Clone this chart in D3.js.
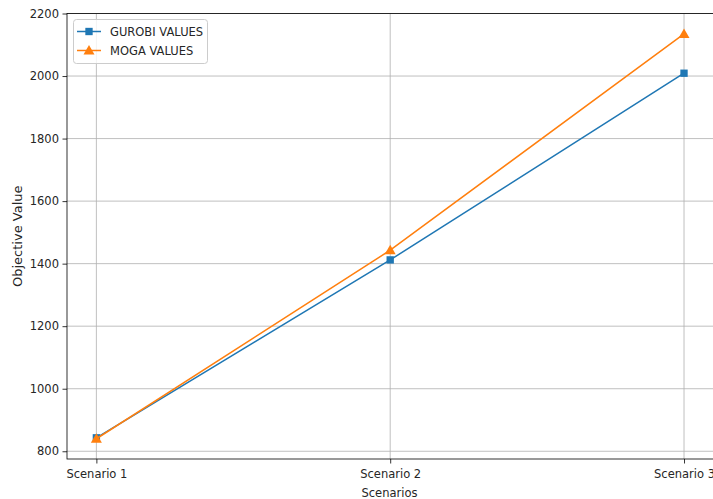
<!DOCTYPE html>
<html>
<head>
<meta charset="utf-8">
<script src="https://cdn.jsdelivr.net/npm/d3@7"></script>
<style>
  html, body { margin: 0; padding: 0; background: #fff; }
  svg { display: block; }
  text { font-family: "DejaVu Sans", sans-serif; fill: #262626; }
</style>
</head>
<body>
<svg id="chart" width="713" height="499"></svg>
<script>
const categories = ["Scenario 1", "Scenario 2", "Scenario 3"];
const gurobiValues = [843, 1412, 2009];
const mogaValues = [840, 1443, 2135];
const yTicks = [800, 1000, 1200, 1400, 1600, 1800, 2000, 2200];
const seriesNames = ["GUROBI VALUES", "MOGA VALUES"];

const W = 713, H = 499;
const m = { left: 67, top: 13.5, bottom: 459, right: 713.4 };
const svg = d3.select("#chart");

const x = d3.scaleLinear().domain([-0.1, 2.1]).range([m.left, m.right]);
const y = d3.scaleLinear().domain([775.25, 2200]).range([m.bottom, m.top]);

// grid
const grid = svg.append("g");
grid.selectAll("line.gy").data(yTicks).join("line")
  .attr("x1", m.left).attr("x2", m.right)
  .attr("y1", d => y(d)).attr("y2", d => y(d))
  .attr("stroke", "#b0b0b0").attr("stroke-width", 0.8);
grid.selectAll("line.gx").data(categories).join("line")
  .attr("x1", (d, i) => x(i)).attr("x2", (d, i) => x(i))
  .attr("y1", m.top).attr("y2", m.bottom)
  .attr("stroke", "#b0b0b0").attr("stroke-width", 0.8);

// axes
const yAxis = d3.axisLeft(y).tickValues(yTicks).tickSize(4.5).tickPadding(3.5).tickFormat(d3.format("d"));
const gy = svg.append("g").attr("transform", `translate(${m.left},0)`).call(yAxis);
const xAxis = d3.axisBottom(x).tickValues([0, 1, 2]).tickSize(4.5).tickPadding(6.5).tickFormat(i => categories[i]);
const gx = svg.append("g").attr("transform", `translate(0,${m.bottom})`).call(xAxis);
[gy, gx].forEach(g => {
  g.select(".domain").remove();
  g.selectAll(".tick line").attr("stroke", "#000").attr("stroke-width", 0.8);
  g.selectAll(".tick text").attr("font-size", 11.5).attr("fill", "#262626")
    .attr("font-family", "DejaVu Sans, sans-serif");
});

// spines
svg.append("rect").attr("x", m.left).attr("y", m.top)
  .attr("width", m.right - m.left).attr("height", m.bottom - m.top)
  .attr("fill", "none").attr("stroke", "#000").attr("stroke-width", 0.8);

// series
const line = d3.line().x((d, i) => x(i)).y(d => y(d));
const colors = ["#1f77b4", "#ff7f0e"];
const series = [gurobiValues, mogaValues];
const symSize = [54, 52];
series.forEach((vals, s) => {
  svg.append("path").datum(vals).attr("d", line)
    .attr("fill", "none").attr("stroke", colors[s]).attr("stroke-width", 1.5);
  const sym = s === 0 ? d3.symbolSquare : d3.symbolTriangle;
  svg.selectAll(null).data(vals).join("path")
    .attr("d", d3.symbol().type(sym).size(symSize[s]))
    .attr("transform", (d, i) => `translate(${x(i)},${y(d) + (s === 1 ? 0.9 : 0)})`)
    .attr("fill", colors[s]);
});

// labels
svg.append("text").attr("x", (m.left + m.right) / 2 - 0.7).attr("y", 497)
  .attr("text-anchor", "middle").attr("font-size", 11.5).text("Scenarios");
svg.append("text").attr("transform", `translate(21.5,${(m.top + m.bottom) / 2}) rotate(-90)`)
  .attr("text-anchor", "middle").attr("font-size", 13).text("Objective Value");

// legend
const lg = svg.append("g");
lg.append("rect").attr("x", 73.5).attr("y", 19.5).attr("width", 134).attr("height", 44)
  .attr("rx", 3).attr("fill", "#fff").attr("fill-opacity", 0.8)
  .attr("stroke", "#cccccc").attr("stroke-width", 1);
seriesNames.forEach((name, s) => {
  const ly = 31.5 + s * 19;
  lg.append("line").attr("x1", 77).attr("x2", 101).attr("y1", ly).attr("y2", ly)
    .attr("stroke", colors[s]).attr("stroke-width", 1.5);
  lg.append("path")
    .attr("d", d3.symbol().type(s === 0 ? d3.symbolSquare : d3.symbolTriangle).size(symSize[s]))
    .attr("transform", `translate(89,${ly + (s === 1 ? 0.9 : 0)})`).attr("fill", colors[s]);
  lg.append("text").attr("x", 110).attr("y", ly + 4.2).attr("font-size", 11.5).text(name);
});
</script>
</body>
</html>
